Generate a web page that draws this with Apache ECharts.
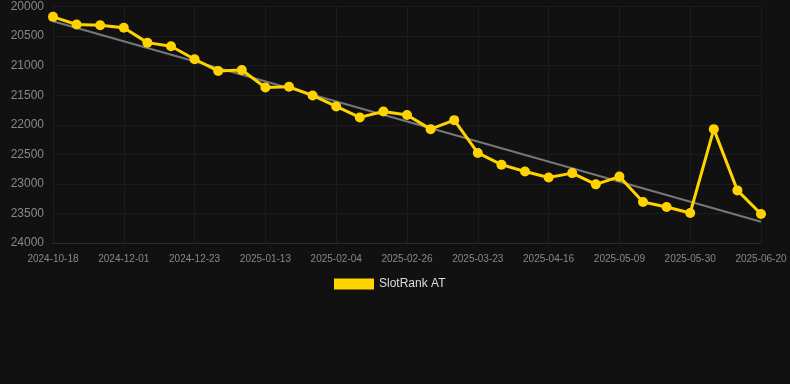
<!DOCTYPE html>
<html><head><meta charset="utf-8">
<script src="https://cdn.jsdelivr.net/npm/echarts@6/dist/echarts.min.js"></script>
<style>html,body{margin:0;padding:0;background:#111111;}#c{width:790px;height:384px;}</style>
</head><body><div id="c"></div>
<script>
const dates = ["2024-10-18","2024-11-08","2024-11-22","2024-12-01","2024-12-08","2024-12-15","2024-12-23","2024-12-30","2025-01-06","2025-01-13","2025-01-20","2025-01-27","2025-02-04","2025-02-11","2025-02-18","2025-02-26","2025-03-05","2025-03-13","2025-03-23","2025-03-31","2025-04-08","2025-04-16","2025-04-23","2025-05-01","2025-05-09","2025-05-16","2025-05-23","2025-05-30","2025-06-06","2025-06-13","2025-06-20"];
const ranks = [20175,20305,20318,20358,20611,20672,20892,21090,21073,21371,21358,21505,21690,21876,21777,21835,22074,21922,22477,22675,22790,22892,22818,23008,22877,23307,23392,23493,22074,23110,23510];
const trendIdx = [0, 30];
const trendVals = [20248, 23640];
const yTicks = {min: 20000, max: 24000, interval: 500};
const seriesName = "SlotRank AT";

const chart = echarts.init(document.getElementById('c'));
chart.setOption({
  backgroundColor: '#111111',
  animation: false,
  grid: {left: 53, right: 29, top: 6.5, bottom: 141},
  legend: {
    data: [seriesName], bottom: 89, left: 329,
    itemWidth: 40, itemHeight: 11, itemGap: 10,
    icon: 'rect',
    textStyle: {color: '#dddddd', fontSize: 12, fontFamily: 'Liberation Sans, Arial, sans-serif'}
  },
  xAxis: {
    type: 'category', data: dates, boundaryGap: false,
    axisLine: {lineStyle: {color: '#2a2a2a'}},
    axisTick: {show: false},
    axisLabel: {interval: 2, color: '#888888', fontSize: 10, margin: 11, fontFamily: 'Liberation Sans, Arial, sans-serif'},
    splitLine: {show: true, interval: 2, lineStyle: {color: '#1c1c1c'}}
  },
  yAxis: {
    type: 'value', inverse: true, min: yTicks.min, max: yTicks.max, interval: yTicks.interval,
    axisLine: {show: false}, axisTick: {show: false},
    axisLabel: {color: '#888888', fontSize: 12, margin: 9, formatter: v => String(v), fontFamily: 'Liberation Sans, Arial, sans-serif'},
    splitLine: {lineStyle: {color: '#1c1c1c'}}
  },
  series: [
    {
      name: 'trend', type: 'line', data: trendIdx.map((i, k) => [i, trendVals[k]]),
      symbol: 'none', lineStyle: {color: '#777777', width: 2}, z: 1, silent: true
    },
    {
      name: seriesName, type: 'line', data: ranks,
      symbol: 'circle', symbolSize: 10,
      itemStyle: {color: '#FFD300'},
      lineStyle: {color: '#FFD300', width: 3}, z: 2
    }
  ]
});
</script></body></html>
